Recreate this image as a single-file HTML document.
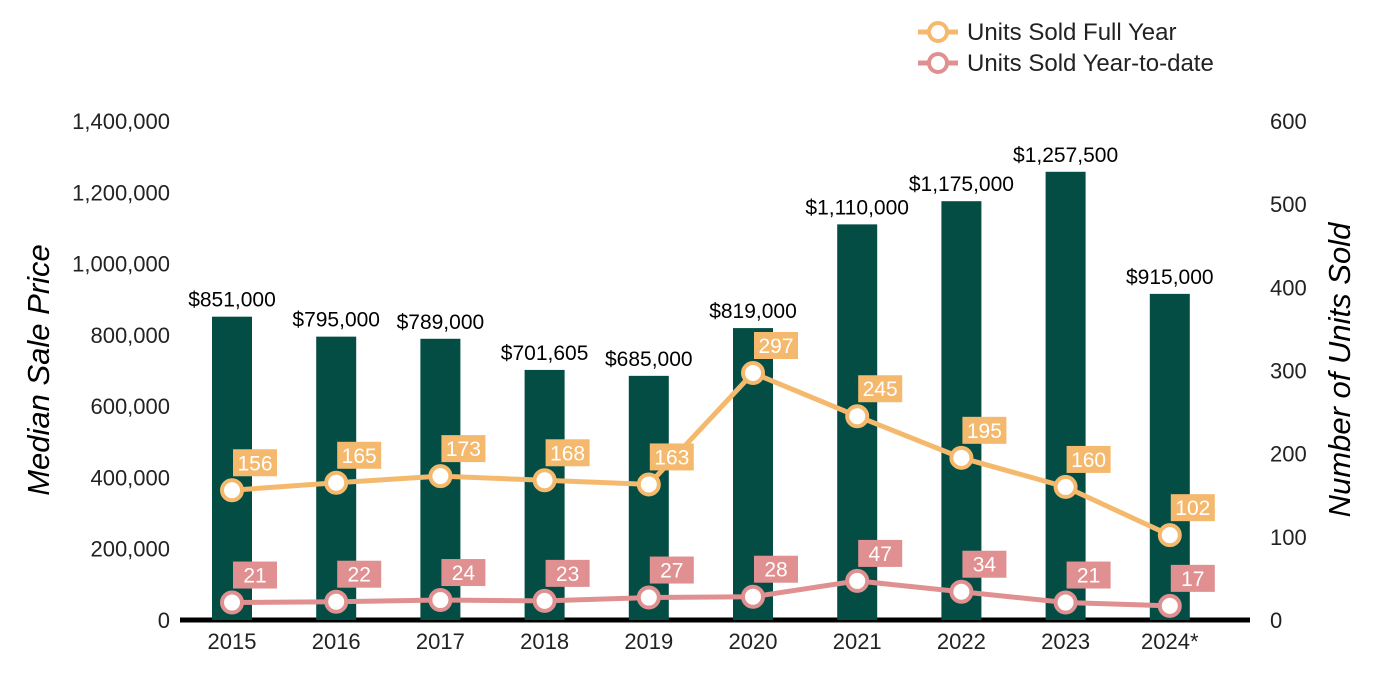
<!DOCTYPE html>
<html><head><meta charset="utf-8"><style>
body{margin:0;background:#fff;}
svg{display:block;font-family:"Liberation Sans",Arial,sans-serif;}
</style></head><body>
<svg id="chart" width="1400" height="700" xmlns="http://www.w3.org/2000/svg">
<g id="legend">
  <g>
    <line x1="918" y1="32" x2="958" y2="32" stroke="#F5B96E" stroke-width="5"/>
    <circle cx="938" cy="32" r="9" fill="#fff" stroke="#F5B96E" stroke-width="4"/>
    <text x="967" y="40" font-size="24" fill="#222">Units Sold Full Year</text>
  </g>
  <g>
    <line x1="918" y1="63" x2="958" y2="63" stroke="#E09090" stroke-width="5"/>
    <circle cx="938" cy="63" r="9" fill="#fff" stroke="#E09090" stroke-width="4"/>
    <text x="967" y="71" font-size="24" fill="#222">Units Sold Year-to-date</text>
  </g>
</g>
<text transform="translate(49,370) rotate(-90)" text-anchor="middle" font-size="31" font-style="italic" fill="#000">Median Sale Price</text>
<text transform="translate(1350,370) rotate(-90)" text-anchor="middle" font-size="31" font-style="italic" fill="#000">Number of Units Sold</text>
<g id="axes"></g>
<g id="bars"></g>
<g id="lines"></g>
</svg>
<script>
const categories=["2015","2016","2017","2018","2019","2020","2021","2022","2023","2024*"];
const prices=[851000,795000,789000,701605,685000,819000,1110000,1175000,1257500,915000];
const priceLabels=["$851,000","$795,000","$789,000","$701,605","$685,000","$819,000","$1,110,000","$1,175,000","$1,257,500","$915,000"];
const fullYear=[156,165,173,168,163,297,245,195,160,102];
const ytd=[21,22,24,23,27,28,47,34,21,17];
const leftTicks=[0,200000,400000,600000,800000,1000000,1200000,1400000];
const rightTicks=[0,100,200,300,400,500,600];

const NS="http://www.w3.org/2000/svg";
const y0=620,yTop=121;
const yL=v=>y0-v/1400000*(y0-yTop);
const yR=v=>y0-v/600*(y0-yTop);
const xC=i=>232+i*104.2;
function mk(tag,attrs,parent,text){const e=document.createElementNS(NS,tag);for(const k in attrs)e.setAttribute(k,attrs[k]);if(text!==undefined)e.textContent=text;parent.appendChild(e);return e;}
const axes=document.getElementById('axes'),bars=document.getElementById('bars'),lines=document.getElementById('lines');
const fmt=v=>v.toLocaleString('en-US');
leftTicks.forEach(t=>{const e=mk('text',{x:170,y:yL(t)+8,'text-anchor':'end','font-size':22,fill:'#222'},axes,fmt(t));

});
rightTicks.forEach(t=>{const e=mk('text',{x:1270,y:yR(t)+8,'font-size':22,fill:'#222'},axes,String(t));

});
categories.forEach((c,i)=>{const e=mk('text',{x:xC(i),y:649,'text-anchor':'middle','font-size':22,fill:'#222'},axes,c);

});
prices.forEach((p,i)=>{
 const r=mk('rect',{x:xC(i)-20,y:yL(p),width:40,height:y0-yL(p),fill:'#044D44'},bars);
 
 
 const t=mk('text',{x:xC(i),y:yL(p)-10,'text-anchor':'middle','font-size':21,fill:'#000'},bars,priceLabels[i]);
 
 
});
const base=mk('line',{x1:180,y1:620,x2:1250,y2:620,stroke:'#000','stroke-width':5},axes);


function series(vals,color,name){
 const pts=vals.map((v,i)=>xC(i)+','+yR(v)).join(' ');
 const pl=mk('polyline',{points:pts,fill:'none',stroke:color,'stroke-width':5},lines);
 
 
 vals.forEach((v,i)=>{
  const c=mk('circle',{cx:xC(i),cy:yR(v),r:10,fill:'#fff',stroke:color,'stroke-width':4},lines);
  
  
  const bx=xC(i)+1,by=yR(v)-41;
  const b=mk('rect',{x:bx,y:by,width:44,height:27,fill:color},lines);
  
  
  const t=mk('text',{x:bx+22,y:by+21,'text-anchor':'middle','font-size':21,fill:'#fff'},lines,String(v));
  
  
 });
}
series(fullYear,'#F5B96E','full-year');
series(ytd,'#E09090','ytd');
</script>
</body></html>
